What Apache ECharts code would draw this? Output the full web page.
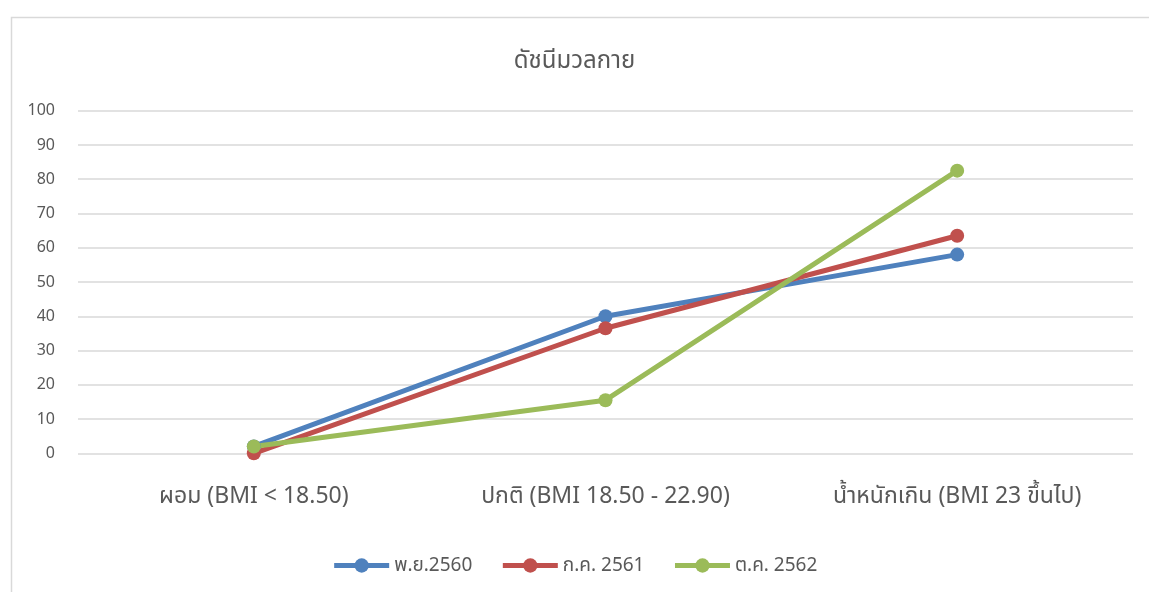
<!DOCTYPE html>
<html>
<head>
<meta charset="utf-8">
<script src="https://cdn.jsdelivr.net/npm/echarts@6/dist/echarts.min.js"></script>
<style>
html,body{margin:0;padding:0;background:#fff;}
#c{width:1149px;height:592px;}
</style>
</head>
<body>
<div id="c"></div>
<script>
const title = 'ดัชนีมวลกาย';
const categories = ['ผอม (BMI < 18.50)', 'ปกติ (BMI 18.50 - 22.90)', 'น้ำหนักเกิน (BMI 23 ขึ้นไป)'];
const seriesNames = ['พ.ย.2560', 'ก.ค. 2561', 'ต.ค. 2562'];
const s1 = [2, 40, 58];
const s2 = [0, 36.5, 63.5];
const s3 = [2, 15.5, 82.5];
const yTicks = [0, 10, 20, 30, 40, 50, 60, 70, 80, 90, 100];

const FONT = '"Noto Sans", "Noto Sans Thai", sans-serif';
const colors = ['#4F81BD', '#C0504D', '#9BBB59'];
const data = [s1, s2, s3];

const chart = echarts.init(document.getElementById('c'), null, {renderer: 'canvas'});
chart.setOption({
  animation: false,
  color: colors,
  textStyle: {fontFamily: FONT},
  graphic: [{
    type: 'rect', left: 9, top: 15, z: -10,
    shape: {width: 1200, height: 620},
    style: {fill: 'none', stroke: '#d9d9d9', lineWidth: 1.5}
  }],
  title: {
    text: title, left: 'center', top: 44,
    textStyle: {fontFamily: FONT, fontSize: 24, fontWeight: 'normal', color: '#595959'}
  },
  legend: {
    data: seriesNames, left: 'center', top: 551,
    itemWidth: 55, itemHeight: 18, itemGap: 28,
    lineStyle: {width: 5},
    textStyle: {fontFamily: FONT, fontSize: 19, color: '#595959'}
  },
  grid: {left: 78, right: 16, top: 110.7, bottom: 592 - 453.3},
  xAxis: {
    type: 'category', data: categories, boundaryGap: true,
    axisLine: {show: false}, axisTick: {show: false},
    axisLabel: {fontFamily: FONT, fontSize: 23, color: '#595959', margin: 32, interval: 0}
  },
  yAxis: {
    type: 'value', min: yTicks[0], max: yTicks[yTicks.length - 1], interval: 10,
    axisLine: {show: false}, axisTick: {show: false},
    axisLabel: {fontFamily: FONT, fontSize: 16, color: '#595959', margin: 23},
    splitLine: {lineStyle: {color: '#d9d9d9', width: 1.5}}
  },
  series: seriesNames.map((n, i) => ({
    name: n, type: 'line', data: data[i],
    symbol: 'circle', symbolSize: 14,
    lineStyle: {width: 5, color: colors[i]},
    itemStyle: {color: colors[i]}
  }))
});
</script>
</body>
</html>
